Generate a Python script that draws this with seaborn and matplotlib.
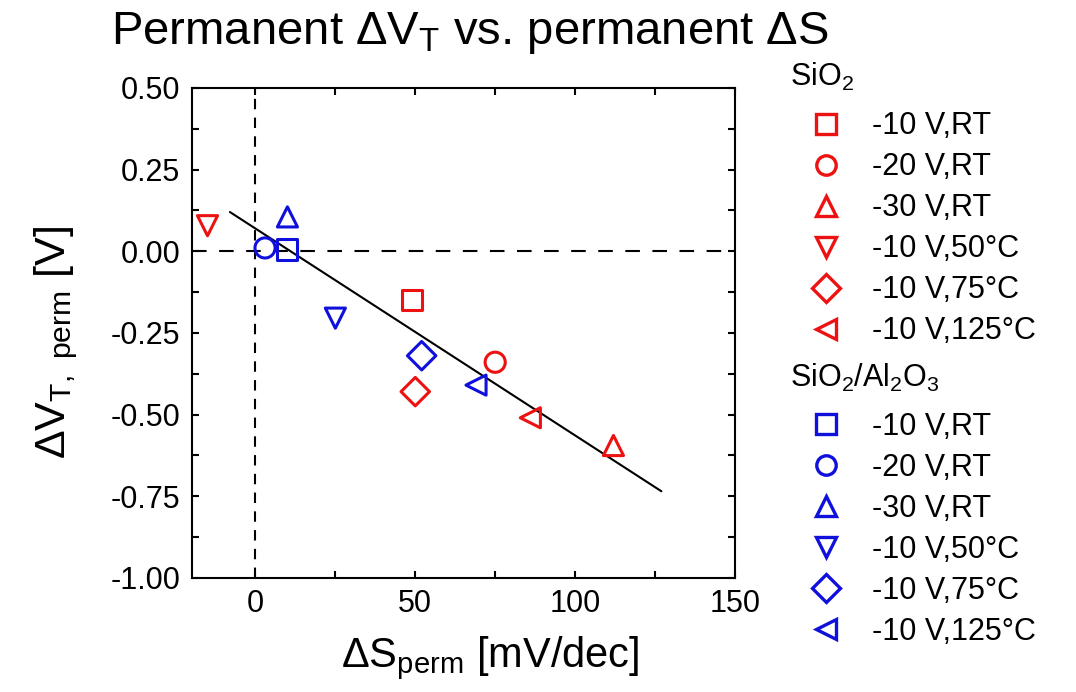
import matplotlib
matplotlib.use("Agg")
import matplotlib.pyplot as plt
import pandas as pd
import seaborn as sns
from matplotlib.lines import Line2D
from matplotlib.ticker import MultipleLocator, FormatStrFormatter

# stress conditions and the marker used for each
conditions = ["-10 V,RT", "-20 V,RT", "-30 V,RT", "-10 V,50°C", "-10 V,75°C", "-10 V,125°C"]
marker_shapes = ["s", "o", "^", "v", "D", "<"]

groups = ["SiO2", "SiO2/Al2O3"]
group_labels = [r"SiO$_\mathregular{2}$",
                r"SiO$_\mathregular{2}$/Al$_\mathregular{2}$O$_\mathregular{3}$"]
group_colors = ["#ee1111", "#1010dd"]

# permanent dS [mV/dec] and dVT [V], same order as conditions
sio2_dS = [49, 75, 112, -15, 50, 86]
sio2_dV = [-0.15, -0.34, -0.595, 0.078, -0.43, -0.51]
stack_dS = [10, 3, 10, 25, 52, 69]
stack_dV = [0.005, 0.01, 0.105, -0.205, -0.32, -0.41]

# linear fit end points
fit_dS = [-8, 127]
fit_dV = [0.12, -0.735]

sns.set_style("ticks")
plt.rcParams["font.family"] = ["Liberation Sans", "DejaVu Sans"]
plt.rcParams["mathtext.fontset"] = "custom"
plt.rcParams["mathtext.rm"] = "Liberation Sans"
plt.rcParams["axes.linewidth"] = 1.5
for key in ["text.color", "axes.labelcolor", "xtick.color", "ytick.color", "axes.edgecolor"]:
    plt.rcParams[key] = "black"

df = pd.DataFrame({
    "dS": sio2_dS + stack_dS,
    "dV": sio2_dV + stack_dV,
    "material": [groups[0]] * len(sio2_dS) + [groups[1]] * len(stack_dS),
    "condition": conditions + conditions,
})

fig = plt.figure(figsize=(10.76, 6.92), dpi=100)
ax = fig.add_axes([0.178, 0.165, 0.505, 0.708])

ax.axhline(0, color="black", lw=1.5, ls=(0, (7, 6)), zorder=1)
ax.axvline(0, color="black", lw=1.5, ls=(0, (5, 4)), zorder=1)
sns.lineplot(x=fit_dS, y=fit_dV, color="black", lw=1.5, ax=ax, zorder=2)

sns.scatterplot(
    data=df, x="dS", y="dV", hue="material", style="condition",
    palette=dict(zip(groups, group_colors)),
    markers=dict(zip(conditions, marker_shapes)),
    s=210, linewidth=2.2, legend=False, ax=ax, zorder=3,
)
# hollow markers
for coll in ax.collections:
    coll.set_edgecolors(coll.get_facecolors())
    coll.set_facecolor("none")

ax.set_xlim(-20, 150)
ax.set_ylim(-1.0, 0.5)
ax.xaxis.set_major_locator(MultipleLocator(50))
ax.xaxis.set_minor_locator(MultipleLocator(25))
ax.yaxis.set_major_locator(MultipleLocator(0.25))
ax.yaxis.set_minor_locator(MultipleLocator(0.125))
ax.yaxis.set_major_formatter(FormatStrFormatter("%.2f"))
ax.tick_params(which="both", direction="in", top=True, right=True,
               length=5, width=1.5, labelsize=22, pad=8)

ax.set_xlabel(r"ΔS$_\mathregular{perm}$ [mV/dec]", fontsize=30)
ax.set_ylabel(r"ΔV$_\mathregular{T,\ perm}$ [V]", fontsize=31)
ax.xaxis.set_label_coords(0.549, -0.115)
ax.yaxis.set_label_coords(-0.205, 0.48)

fig.text(0.437, 0.953, r"Permanent ΔV$_\mathregular{T}$ vs. permanent ΔS",
         fontsize=34, ha="center", va="center")

handles, labels, header_rows = [], [], []
for glabel, color in zip(group_labels, group_colors):
    header_rows.append(len(labels))
    handles.append(Line2D([], [], linestyle="none"))
    # trailing newline gives a little extra room under the header
    labels.append(glabel + "\n")
    for cond, m in zip(conditions, marker_shapes):
        handles.append(Line2D([], [], linestyle="none", marker=m, markersize=14,
                              mfc="none", mec=color, mew=2.4))
        labels.append(cond)

leg = fig.legend(handles, labels, loc="upper left", bbox_to_anchor=(0.745, 0.918),
                 frameon=False, fontsize=22, labelspacing=0.36, handlelength=1.6,
                 handletextpad=0.7, borderpad=0, borderaxespad=0)
# group headers sit further left than the entries
texts = leg.get_texts()
for i in header_rows:
    texts[i].set_linespacing(0.2)
    texts[i].set_position((-82, -4))

fig.savefig("out.png", dpi=100)
